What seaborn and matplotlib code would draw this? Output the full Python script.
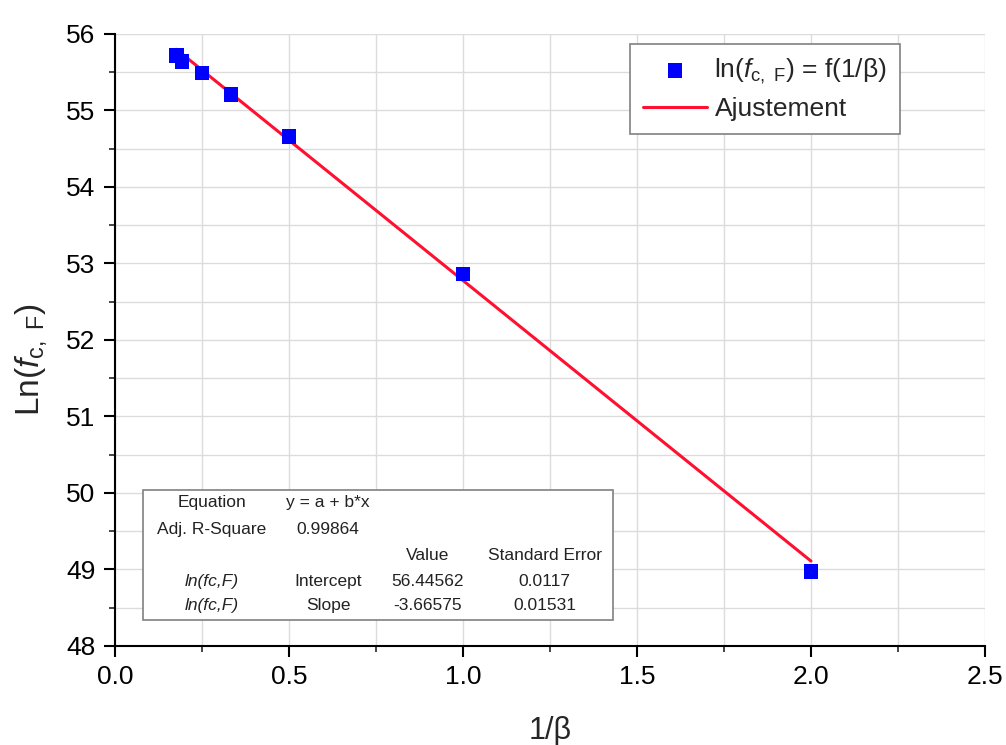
import matplotlib
matplotlib.use("Agg")
import matplotlib.pyplot as plt
from matplotlib.patches import Rectangle
from matplotlib.ticker import MultipleLocator, FormatStrFormatter
import seaborn as sns
import pandas as pd

# === DONNÉES ===
inv_beta = [0.176, 0.193, 0.25, 0.333, 0.5, 1.0, 2.0]
ln_fcf = [55.72, 55.64, 55.49, 55.21, 54.66, 52.86, 48.97]

fit_x = [0.176, 2.0]
fit_y = [55.80, 49.11]

table_rows = [
    ["Equation", "y = a + b*x", "", ""],
    ["Adj. R-Square", "0.99864", "", ""],
    ["", "", "Value", "Standard Error"],
    ["ln(fc,F)", "Intercept", "56.44562", "0.0117"],
    ["ln(fc,F)", "Slope", "-3.66575", "0.01531"],
]

df = pd.DataFrame({"x": inv_beta, "y": ln_fcf})
df_fit = pd.DataFrame({"x": fit_x, "y": fit_y})

# === STYLE ===
sns.set_theme(style="white")
plt.rcParams["font.family"] = ["Liberation Sans", "DejaVu Sans"]
plt.rcParams["mathtext.fontset"] = "custom"
plt.rcParams["mathtext.rm"] = "Liberation Sans"
plt.rcParams["mathtext.it"] = "Liberation Sans:italic"

fig = plt.figure(figsize=(10.06, 7.45), dpi=100)
ax = fig.add_axes([0.1143, 0.1329, 0.8648, 0.8215])

sns.scatterplot(data=df, x="x", y="y", marker="s", s=110, color="#0000ff",
                edgecolor="none", ax=ax, zorder=4,
                label=r"ln($\mathit{f}_{\mathrm{c,\ F}}$) = f(1/β)")
sns.lineplot(data=df_fit, x="x", y="y", color="#ff1030", linewidth=2.2,
             ax=ax, zorder=3, label="Ajustement")

ax.set_xlim(0, 2.5)
ax.set_ylim(48, 56)
ax.xaxis.set_major_locator(MultipleLocator(0.5))
ax.xaxis.set_minor_locator(MultipleLocator(0.25))
ax.yaxis.set_major_locator(MultipleLocator(1))
ax.yaxis.set_minor_locator(MultipleLocator(0.5))
ax.xaxis.set_major_formatter(FormatStrFormatter("%.1f"))

ax.grid(True, which="both", color="#dcdcdc", linewidth=1.0, zorder=0)
ax.set_axisbelow(True)

for s in ["top", "right"]:
    ax.spines[s].set_visible(False)
for s in ["left", "bottom"]:
    ax.spines[s].set_color("black")
    ax.spines[s].set_linewidth(1.5)

ax.tick_params(which="major", direction="out", length=8, width=1.5, pad=6,
               labelsize=19, colors="black", left=True, bottom=True)
ax.tick_params(which="minor", direction="out", length=4.5, width=1.2,
               left=True, bottom=True)

ax.set_xlabel("1/β", fontsize=22, labelpad=19)
ax.set_ylabel(r"Ln($\mathit{f}_{\mathrm{c,\ F}}$)", fontsize=24, labelpad=12)
ax.yaxis.label.set_y(0.467)

leg = ax.legend(loc="upper left", bbox_to_anchor=(0.592, 0.984),
                borderaxespad=0, fontsize=19, fancybox=False,
                edgecolor="#808080", framealpha=1, handlelength=2.4,
                handletextpad=0.3, borderpad=0.5, labelspacing=0.4)
leg.get_frame().set_linewidth(1.2)

# === TABLEAU DES RÉSULTATS ===
box = Rectangle((0.032, 0.042), 0.54, 0.213, transform=ax.transAxes,
                facecolor="white", edgecolor="#808080", linewidth=1.2, zorder=5)
ax.add_patch(box)
col_x = [0.111, 0.245, 0.359, 0.494]
row_y = [0.234, 0.190, 0.148, 0.106, 0.066]
for r, row in enumerate(table_rows):
    for c, txt in enumerate(row):
        if not txt:
            continue
        style = "italic" if (c == 0 and r >= 3) else "normal"
        ax.text(col_x[c], row_y[r], txt, transform=ax.transAxes,
                ha="center", va="center", fontsize=12.5, fontstyle=style,
                color="#222222", zorder=6)

fig.savefig("out.png", dpi=100)
